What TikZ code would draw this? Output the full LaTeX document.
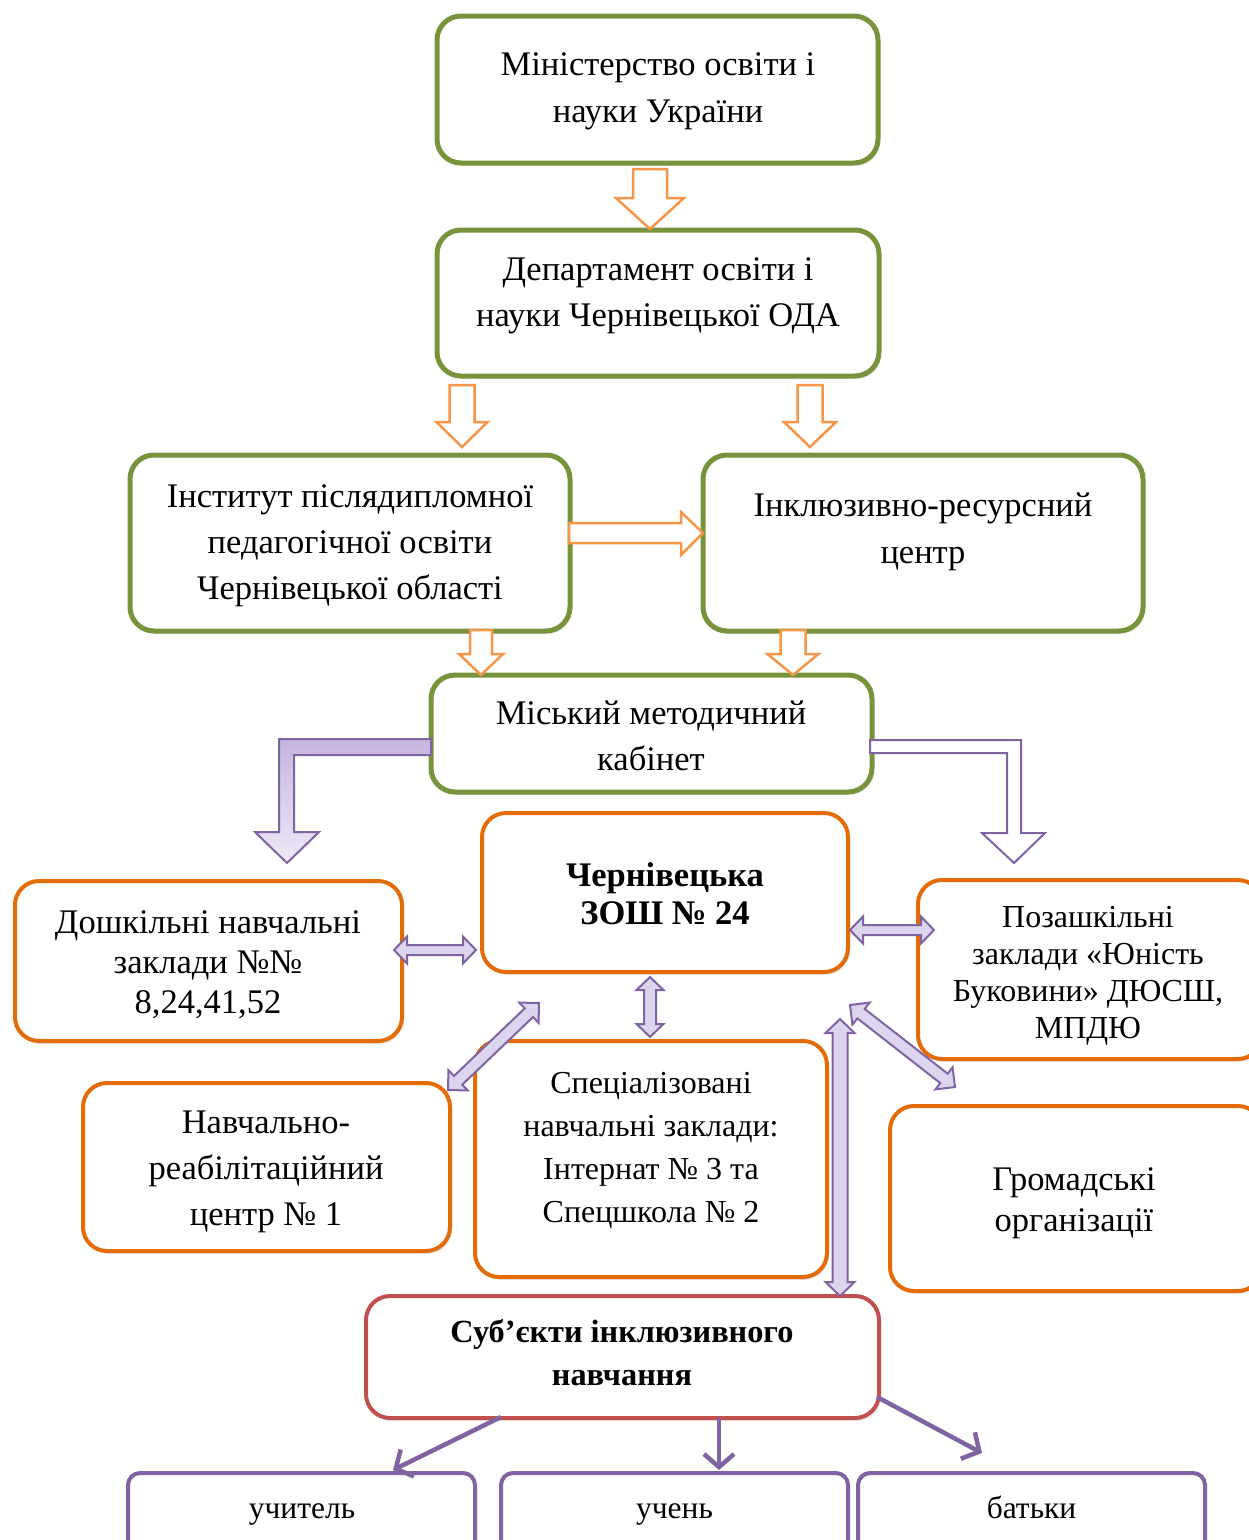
\documentclass[tikz,border=0pt]{standalone}
\usepackage{fontspec}
\setmainfont{Liberation Serif}
\usetikzlibrary{calc,arrows.meta,shadows}
\definecolor{grn}{HTML}{77933C}
\definecolor{org}{HTML}{E36C09}
\definecolor{lor}{HTML}{F79646}
\definecolor{redb}{HTML}{C0504D}
\definecolor{pur}{HTML}{8064A2}
\definecolor{lpur}{HTML}{DDD4EE}
\definecolor{tpur}{HTML}{C5B5DF}
\definecolor{bpur}{HTML}{EEE9F6}
\newcommand\BlkDown[6]{%
  \draw[oarrow] (#1-#5,#2) -- (#1+#5,#2) -- (#1+#5,#3) -- (#1+#6,#3) -- (#1,#4) -- (#1-#6,#3) -- (#1-#5,#3) -- cycle;}
\newcommand\DblArrow[5]{% A, B, head length, head half width, shaft half width
  \draw[dblarrow] (#1) -- ($(#1)!#3!(#2)!#4!90:(#2)$) -- ($(#1)!#3!(#2)!#5!90:(#2)$)
    -- ($(#2)!#3!(#1)!#5!-90:(#1)$) -- ($(#2)!#3!(#1)!#4!-90:(#1)$) -- (#2)
    -- ($(#2)!#3!(#1)!#4!90:(#1)$) -- ($(#2)!#3!(#1)!#5!90:(#1)$)
    -- ($(#1)!#3!(#2)!#5!-90:(#2)$) -- ($(#1)!#3!(#2)!#4!-90:(#2)$) -- cycle;}
\begin{document}
\begin{tikzpicture}[x=1pt,y=-1pt,
  box/.style={draw, fill=white, rounded corners=24pt, inner sep=0pt,
    drop shadow={opacity=0.18, shadow xshift=2pt, shadow yshift=-3pt}},
  gbox/.style={box, draw=grn, line width=5pt},
  obox/.style={box, draw=org, line width=4pt},
  rbox/.style={box, draw=redb, line width=4pt},
  pbox/.style={box, draw=pur, line width=4pt, rounded corners=12pt},
  txt/.style={align=center, inner sep=0pt, font=\fontsize{34.5}{47}\selectfont},
  btxt/.style={anchor=base, inner sep=0pt, font=\fontsize{31.5}{40}\selectfont},
  oarrow/.style={draw=lor, line width=2.5pt, fill=white, line join=miter},
  dblarrow/.style={draw=pur, line width=2pt, fill=lpur, line join=miter},
  thin/.style={draw=pur, line width=4.5pt, -{Straight Barb[length=13pt,width=30pt]}},
]
\path[use as bounding box] (0,0) rectangle (1249,1540);
\clip (0,0) rectangle (1249,1540);
\fill[white] (0,0) rectangle (1249,1540);

% ---- boxes
\node[gbox, minimum width=441pt, minimum height=147pt] (mon) at (657.5,89.5) {};
\node[gbox, minimum width=442pt, minimum height=146pt] (dep) at (658,303) {};
\node[gbox, minimum width=440pt, minimum height=176pt] (inst) at (350,543) {};
\node[gbox, minimum width=440pt, minimum height=176pt] (irc) at (923,543) {};
\node[gbox, minimum width=441pt, minimum height=117pt] (mmk) at (651.5,733.5) {};
\node[obox, minimum width=366pt, minimum height=159pt] (zosh) at (665,892.5) {};
\node[obox, minimum width=387pt, minimum height=160pt] (dnz) at (208.5,961) {};
\node[obox, minimum width=344pt, minimum height=179pt] (poz) at (1090,969.5) {};
\node[obox, minimum width=367pt, minimum height=168pt] (nrc) at (266.5,1167) {};
\node[obox, minimum width=352pt, minimum height=236pt] (spec) at (651,1159) {};
\node[obox, minimum width=372pt, minimum height=185pt] (gro) at (1076,1198.5) {};
\node[rbox, minimum width=513pt, minimum height=122pt] (sub) at (622.5,1357) {};
\node[pbox, minimum width=347pt, minimum height=80pt] (uch) at (301.5,1513) {};
\node[pbox, minimum width=347pt, minimum height=80pt] (un) at (674.5,1513) {};
\node[pbox, minimum width=347pt, minimum height=80pt] (bat) at (1031.5,1513) {};

% ---- texts
\node[txt] (t-mon) at (658,91) {Міністерство освіти і\\науки України};
\node[txt, font=\fontsize{34.5}{46}\selectfont] (t-dep) at (658,296) {Департамент освіти і\\науки Чернівецької ОДА};
\node[txt, font=\fontsize{34.5}{46}\selectfont] (t-inst) at (350,546) {Інститут післядипломної\\педагогічної освіти\\Чернівецької області};
\node[txt] (t-irc) at (923,532) {Інклюзивно-ресурсний\\центр};
\node[txt, font=\fontsize{34.5}{46}\selectfont] (t-mmk) at (651,736) {Міський методичний\\кабінет};
\node[txt, font=\fontsize{34.5}{38}\selectfont\bfseries] (t-zosh) at (665,894) {Чернівецька\\ЗОШ № 24};
\node[txt, font=\fontsize{34.5}{40}\selectfont] (t-dnz) at (208,965) {Дошкільні навчальні\\заклади №№\\8,24,41,52};
\node[txt, font=\fontsize{32}{37}\selectfont] (t-poz) at (1088,976) {Позашкільні\\заклади «Юність\\Буковини» ДЮСШ,\\МПДЮ};
\node[txt, font=\fontsize{34.5}{46}\selectfont] (t-nrc) at (266,1172) {Навчально-\\реабілітаційний\\центр № 1};
\node[txt, font=\fontsize{32}{43}\selectfont] (t-spec) at (651,1150) {Спеціалізовані\\навчальні заклади:\\Інтернат № 3 та\\Спецшкола № 2};
\node[txt, font=\fontsize{34.5}{41}\selectfont] (t-gro) at (1074,1203) {Громадські\\організації};
\node[txt, font=\fontsize{32.3}{43}\selectfont\bfseries] (t-sub) at (622,1353) {Суб’єкти інклюзивного\\навчання};
\node[btxt] (t-uch) at (302,1518) {учитель};
\node[btxt] (t-un) at (674.5,1518) {учень};
\node[btxt] (t-bat) at (1031.5,1518) {батьки};

% ---- orange block arrows
\BlkDown{650}{169}{198}{229}{17}{34}
\BlkDown{462}{385}{422}{447}{12.5}{25.5}
\BlkDown{810}{385}{422}{447}{12.5}{26}
\BlkDown{481}{630}{654}{675}{11}{22}
\BlkDown{793}{630}{654}{675}{12.5}{25.5}
\draw[oarrow] (569,523) -- (681,523) -- (681,512) -- (703,533) -- (681,555) -- (681,543) -- (569,543) -- cycle;

% ---- purple L arrows
\draw[draw=pur, line width=2pt, top color=tpur, bottom color=bpur, line join=miter]
  (431,739) -- (279,739) -- (279,832) -- (255,832) -- (287,863) -- (319,832) -- (294,832) -- (294,755) -- (431,755) -- cycle;
\draw[draw=pur, line width=2pt, fill=white, line join=miter]
  (870,740) -- (1021,740) -- (1021,833) -- (1045,833) -- (1014,863) -- (982,833) -- (1007,833) -- (1007,753) -- (870,753) -- cycle;

% ---- double arrows
\coordinate (d1a) at (394,950);  \coordinate (d1b) at (476,950);
\coordinate (d2a) at (850,930);  \coordinate (d2b) at (934,930);
\coordinate (d3a) at (650,977);  \coordinate (d3b) at (650,1037);
\coordinate (d4a) at (539,1003); \coordinate (d4b) at (448,1090);
\coordinate (d5a) at (850,1005); \coordinate (d5b) at (955,1087);
\coordinate (d6a) at (840,1019); \coordinate (d6b) at (840,1296);
\DblArrow{d1a}{d1b}{13pt}{13.5pt}{5pt}
\DblArrow{d2a}{d2b}{13pt}{13.5pt}{5pt}
\DblArrow{d3a}{d3b}{13pt}{13.5pt}{6pt}
\DblArrow{d4a}{d4b}{14pt}{14pt}{6pt}
\DblArrow{d5a}{d5b}{14pt}{14pt}{6pt}
\DblArrow{d6a}{d6b}{14pt}{14.5pt}{7.5pt}

% ---- thin arrows from subjects
\coordinate (s1) at (501,1417); \coordinate (e1) at (393,1470);
\coordinate (s2) at (719,1418); \coordinate (e2) at (719,1470);
\coordinate (s3) at (877,1397); \coordinate (e3) at (982,1453);
\draw[thin] (s1) -- (e1);
\draw[thin] (s2) -- (e2);
\draw[thin] (s3) -- (e3);
\end{tikzpicture}
\end{document}
